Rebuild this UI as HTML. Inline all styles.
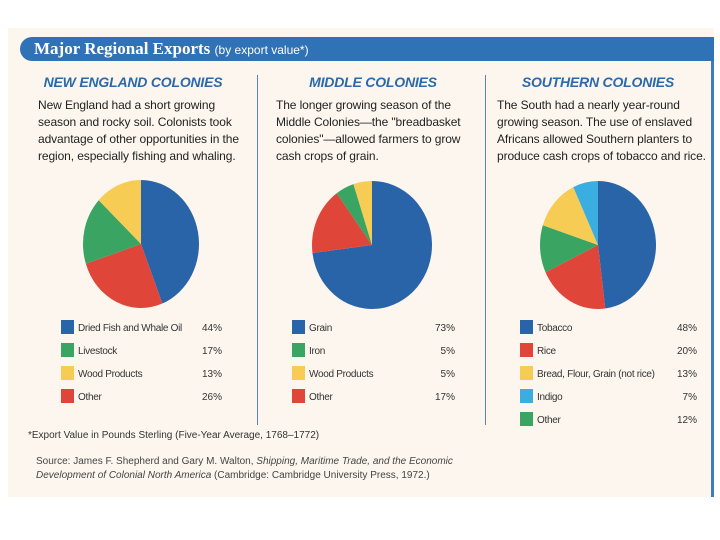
<!DOCTYPE html>
<html><head><meta charset="utf-8"><style>
body{margin:0;width:720px;height:540px;background:#fff;position:relative;overflow:hidden;font-family:"Liberation Sans",sans-serif}
.abs{position:absolute}
.h{color:#2b69ac;font-style:italic;font-weight:bold;font-size:14px;text-align:center;width:230px;letter-spacing:-0.2px}
.p{font-size:12px;line-height:17px;color:#222;width:230px;letter-spacing:-0.1px;white-space:nowrap}
</style></head><body>
<div class="abs" style="left:8px;top:28px;width:706px;height:469px;background:#fcf6ee"></div>
<div class="abs" style="left:711px;top:37px;width:3px;height:460px;background:#3b7dc0"></div>
<div class="abs" style="left:20px;top:37px;width:694px;height:24px;background:#2f72b6;border-radius:12px 0 0 12px"></div>
<div class="abs" style="left:34px;top:39px;color:#fff;font-family:'Liberation Serif',serif;font-weight:bold;font-size:17px">Major Regional Exports <span style="font-family:'Liberation Sans',sans-serif;font-size:12px;font-weight:normal">(by export value*)</span></div>
<div class="abs" style="left:257px;top:75px;width:1px;height:350px;background:#5a86b4"></div>
<div class="abs" style="left:485px;top:75px;width:1px;height:350px;background:#5a86b4"></div>

<div class="abs h" style="left:18px;top:74px">NEW ENGLAND COLONIES</div>
<div class="abs p" style="left:38px;top:97px">New England had a short growing<br>season and rocky soil. Colonists took<br>advantage of other opportunities in the<br>region, especially fishing and whaling.</div>
<div class="abs h" style="left:258px;top:74px">MIDDLE COLONIES</div>
<div class="abs p" style="left:276px;top:97px">The longer growing season of the<br>Middle Colonies—the "breadbasket<br>colonies"—allowed farmers to grow<br>cash crops of grain.</div>
<div class="abs h" style="left:483px;top:74px">SOUTHERN COLONIES</div>
<div class="abs p" style="left:497px;top:97px">The South had a nearly year-round<br>growing season. The use of enslaved<br>Africans allowed Southern planters to<br>produce cash crops of tobacco and rice.</div>

<svg class="abs" style="left:0;top:0" width="720" height="540" id="chart"></svg>

<div class="abs" style="left:28px;top:430px;font-size:10px;color:#333">*Export Value in Pounds Sterling (Five-Year Average, 1768–1772)</div>
<div class="abs" style="left:36px;top:455px;font-size:10px;line-height:14px;color:#444">Source: James F. Shepherd and Gary M. Walton, <i>Shipping, Maritime Trade, and the Economic<br>Development of Colonial North America</i> (Cambridge: Cambridge University Press, 1972.)</div>

<script>
const neLabels=["Dried Fish and Whale Oil","Livestock","Wood Products","Other"];
const neValues=[44,17,13,26];
const neColors=["#2a64a8","#3aa463","#f6cc55","#e0453a"];
const neOrder=[0,3,1,2];
const midLabels=["Grain","Iron","Wood Products","Other"];
const midValues=[73,5,5,17];
const midColors=["#2a64a8","#3aa463","#f6cc55","#e0453a"];
const midOrder=[0,3,1,2];
const soLabels=["Tobacco","Rice","Bread, Flour, Grain (not rice)","Indigo","Other"];
const soValues=[48,20,13,7,12];
const soColors=["#2a64a8","#e0453a","#f6cc55","#3aaee0","#3aa463"];
const soOrder=[0,1,4,2,3];
const NS="http://www.w3.org/2000/svg";
const svg=document.getElementById('chart');
function pie(cx,cy,rx,ry,vals,cols,order,name){
  const tot=vals.reduce((a,b)=>a+b,0);let a=0;
  order.forEach(i=>{
    const a0=a,a1=a+vals[i]/tot*2*Math.PI;a=a1;
    const x0=cx+rx*Math.sin(a0),y0=cy-ry*Math.cos(a0),x1=cx+rx*Math.sin(a1),y1=cy-ry*Math.cos(a1);
    const p=document.createElementNS(NS,'path');
    p.setAttribute('d',`M${cx},${cy}L${x0},${y0}A${rx},${ry} 0 ${a1-a0>Math.PI?1:0} 1 ${x1},${y1}Z`);
    p.setAttribute('fill',cols[i]);
    
    
    svg.appendChild(p);
  });
}
function legend(x,pctX,labels,vals,cols,name){
  labels.forEach((l,i)=>{
    const y=320+i*23;
    const r=document.createElementNS(NS,'rect');
    r.setAttribute('x',x);r.setAttribute('y',y);r.setAttribute('width',13);r.setAttribute('height',14);r.setAttribute('fill',cols[i]);
    
    
    svg.appendChild(r);
    const t=document.createElementNS(NS,'text');
    t.setAttribute('x',x+17);t.setAttribute('y',y+11);t.setAttribute('font-size','10');t.setAttribute('fill','#333');t.setAttribute('letter-spacing','-0.3');t.textContent=l;
    
    
    svg.appendChild(t);
    const v=document.createElementNS(NS,'text');
    v.setAttribute('x',pctX);v.setAttribute('y',y+11);v.setAttribute('font-size','10');v.setAttribute('fill','#333');v.setAttribute('text-anchor','end');v.textContent=vals[i]+'%';
    
    
    svg.appendChild(v);
  });
}
pie(141,244,58,64,neValues,neColors,neOrder,'new-england');
pie(372,245,60,64,midValues,midColors,midOrder,'middle');
pie(598,245,58,64,soValues,soColors,soOrder,'southern');
legend(61,222,neLabels,neValues,neColors,'new-england');
legend(292,455,midLabels,midValues,midColors,'middle');
legend(520,697,soLabels,soValues,soColors,'southern');
</script>
</body></html>
